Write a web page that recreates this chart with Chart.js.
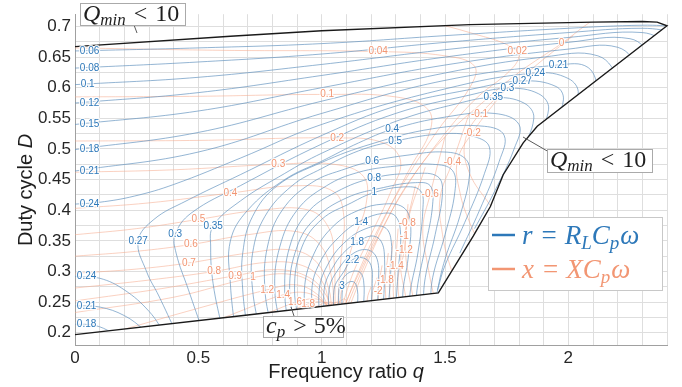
<!DOCTYPE html>
<html><head><meta charset="utf-8">
<script src="https://cdn.jsdelivr.net/npm/chart.js@4.4.0/dist/chart.umd.min.js"></script>
<style>html,body{margin:0;padding:0;background:#fff;}#wrap{width:682px;height:387px;position:relative;}</style>
</head><body><div id="wrap"><canvas id="c" width="682" height="387"></canvas></div>
<script>
// ---------- data ----------
const xTickLabels = [0, 0.5, 1, 1.5, 2];
const yTickLabels = [0.2, 0.25, 0.3, 0.35, 0.4, 0.45, 0.5, 0.55, 0.6, 0.65, 0.7];

const boundaryTop = [[0,0.667],[0.63,0.684],[1.0,0.693],[1.6,0.703],[2.1,0.707],[2.3,0.708],[2.36,0.707],[2.4,0.701]];
const boundaryRight = [[2.4,0.701],[1.874,0.537],[1.817,0.510],[1.736,0.458],[1.684,0.406],[1.615,0.358],[1.473,0.265]];
const boundaryBottom = [[1.473,0.265],[0.7,0.229],[0,0.197]];

// r = R_L Cp w contours
const rLevels = [0.06,0.08,0.1,0.12,0.15,0.18,0.21,0.24,0.18,0.21,0.24,0.27,0.3,0.35,0.4,0.45,0.5,0.6,0.7,0.8,0.9,1,1.2,1.4,1.6,1.8,2,2.2,2.6,3];
const rLines = [
 [[0,0.660],[0.5,0.665],[1.0,0.672],[1.5,0.685],[2.0,0.697],[2.3,0.702],[2.45,0.70]],
 [[0,0.632],[0.5,0.642],[1.0,0.655],[1.5,0.674],[2.0,0.69],[2.3,0.697],[2.45,0.69]],
 [[0,0.605],[0.5,0.617],[1.0,0.638],[1.5,0.662],[2.0,0.682],[2.3,0.69],[2.42,0.67]],
 [[0,0.575],[0.5,0.592],[1.0,0.62],[1.5,0.65],[2.0,0.674],[2.25,0.68],[2.35,0.65]],
 [[0,0.540],[0.5,0.562],[1.0,0.60],[1.5,0.637],[2.0,0.663],[2.2,0.666],[2.3,0.63]],
 [[0,0.499],[0.5,0.527],[1.0,0.578],[1.5,0.624],[1.9,0.65],[2.12,0.652],[2.22,0.61]],
 [[0,0.464],[0.5,0.495],[1.0,0.558],[1.5,0.612],[1.96,0.637],[2.08,0.633],[2.13,0.59]],
 [[0,0.41],[0.1,0.413],[0.24,0.423],[0.4,0.442],[0.67,0.485],[1.0,0.54],[1.5,0.598],[1.866,0.624],[2.0,0.615],[2.04,0.59],[1.98,0.54]],
 [[0,0.214],[0.08,0.212],[0.15,0.2],[0.2,0.185]],
 [[0,0.244],[0.1,0.242],[0.2,0.228],[0.28,0.205],[0.32,0.19]],
 [[0,0.292],[0.1,0.289],[0.2,0.27],[0.3,0.235],[0.37,0.195]],
 [[0.41,0.2],[0.34,0.26],[0.29,0.3],[0.256,0.35],[0.32,0.385],[0.45,0.415],[0.67,0.458],[1.0,0.522],[1.3,0.57],[1.6,0.597],[1.813,0.611],[1.95,0.602],[1.98,0.58],[1.93,0.53],[1.86,0.48]],
 [[0.52,0.2],[0.46,0.27],[0.41,0.33],[0.406,0.36],[0.47,0.395],[0.67,0.44],[1.0,0.508],[1.3,0.558],[1.6,0.588],[1.753,0.599],[1.88,0.59],[1.92,0.565],[1.86,0.51],[1.78,0.45]],
 [[0.6,0.2],[0.56,0.28],[0.55,0.34],[0.56,0.374],[0.67,0.415],[0.85,0.46],[1.0,0.493],[1.3,0.545],[1.55,0.574],[1.696,0.584],[1.82,0.575],[1.86,0.55],[1.8,0.49],[1.72,0.43]],
 [[0.65,0.2],[0.63,0.28],[0.63,0.35],[0.7,0.4],[0.85,0.45],[1.0,0.48],[1.15,0.51],[1.286,0.532],[1.5,0.552],[1.7,0.558],[1.8,0.54],[1.78,0.5],[1.7,0.43],[1.62,0.37]],
 [[0.7,0.2],[0.68,0.27],[0.68,0.33],[0.72,0.39],[0.82,0.44],[1.0,0.478],[1.2,0.508],[1.45,0.533],[1.66,0.537],[1.74,0.522],[1.72,0.48],[1.64,0.4],[1.56,0.33]],
 [[0.75,0.2],[0.72,0.27],[0.72,0.33],[0.77,0.39],[0.88,0.44],[1.0,0.468],[1.15,0.497],[1.298,0.513],[1.5,0.525],[1.62,0.52],[1.68,0.503],[1.66,0.46],[1.58,0.38],[1.5,0.31],[1.47,0.27]],
 [[0.8,0.2],[0.77,0.27],[0.78,0.34],[0.84,0.4],[0.96,0.445],[1.1,0.468],[1.205,0.48],[1.35,0.49],[1.5,0.495],[1.58,0.485],[1.6,0.46],[1.56,0.39],[1.5,0.32],[1.47,0.27],[1.46,0.24]],
 [[0.84,0.2],[0.81,0.27],[0.83,0.34],[0.9,0.4],[1.02,0.44],[1.15,0.462],[1.3,0.472],[1.45,0.475],[1.53,0.465],[1.54,0.43],[1.5,0.36],[1.45,0.29],[1.44,0.24]],
 [[0.87,0.2],[0.85,0.27],[0.87,0.34],[0.94,0.395],[1.06,0.43],[1.213,0.453],[1.38,0.46],[1.47,0.455],[1.49,0.43],[1.46,0.36],[1.42,0.29],[1.41,0.24]],
 [[0.9,0.2],[0.87,0.27],[0.9,0.34],[0.97,0.385],[1.1,0.42],[1.25,0.437],[1.38,0.445],[1.44,0.44],[1.45,0.41],[1.42,0.34],[1.39,0.28],[1.38,0.24]],
 [[0.92,0.2],[0.89,0.27],[0.92,0.34],[1.0,0.385],[1.12,0.412],[1.213,0.429],[1.33,0.438],[1.4,0.432],[1.41,0.4],[1.39,0.33],[1.36,0.27],[1.355,0.24]],
 [[0.95,0.2],[0.93,0.27],[0.97,0.33],[1.05,0.375],[1.15,0.4],[1.25,0.41],[1.33,0.405],[1.36,0.38],[1.35,0.32],[1.33,0.27],[1.33,0.24]],
 [[0.98,0.2],[0.96,0.27],[1.0,0.32],[1.08,0.36],[1.16,0.383],[1.25,0.395],[1.3,0.39],[1.32,0.36],[1.31,0.3],[1.3,0.24]],
 [[1.0,0.2],[0.99,0.27],[1.03,0.315],[1.1,0.35],[1.18,0.37],[1.25,0.373],[1.28,0.355],[1.28,0.3],[1.27,0.24]],
 [[1.02,0.2],[1.01,0.27],[1.05,0.31],[1.1,0.335],[1.144,0.347],[1.2,0.358],[1.24,0.35],[1.255,0.32],[1.25,0.24]],
 [[1.04,0.2],[1.03,0.27],[1.07,0.305],[1.13,0.33],[1.19,0.335],[1.225,0.32],[1.23,0.28],[1.225,0.24]],
 [[1.06,0.2],[1.05,0.27],[1.09,0.3],[1.124,0.319],[1.17,0.322],[1.2,0.31],[1.205,0.28],[1.2,0.24]],
 [[1.08,0.2],[1.07,0.27],[1.1,0.295],[1.15,0.3],[1.17,0.285],[1.17,0.24]],
 [[1.09,0.2],[1.083,0.265],[1.1,0.28],[1.13,0.283],[1.145,0.27],[1.145,0.24]]
];
const rLabelText = ['0.06','0.08','0.1','0.12','0.15','0.18','0.21','0.24','0.24','0.21','0.18','0.27','0.3','0.35','0.4','0.5','0.6','0.8','1','1.4','1.8','2.2','3','0.35','0.3','0.27','0.24','0.21'];
const rLabelX = [0.059,0.059,0.051,0.059,0.059,0.059,0.059,0.059,0.047,0.047,0.047,0.256,0.406,0.56,1.286,1.298,1.205,1.213,1.213,1.16,1.144,1.124,1.083,1.696,1.753,1.813,1.866,1.96];
const rLabelY = [0.660,0.632,0.605,0.575,0.540,0.499,0.463,0.410,0.292,0.244,0.214,0.350,0.360,0.374,0.532,0.513,0.480,0.453,0.429,0.380,0.347,0.319,0.276,0.584,0.599,0.611,0.624,0.637];

// x = X Cp w contours
const xLevels = [0.04,0.1,0.2,0.3,0.4,0.5,0.6,0.7,0.8,0.9,1,1.2,1.4,1.6,1.8,0.02,0,-0.1,-0.2,-0.4,-0.6,-0.8,-1,-1.2,-1.4,-1.6,-1.8,-2,2,2.5,3,-2.5,-3];
const xLines = [
 [[0,0.665],[0.6,0.661],[1.229,0.659],[1.5,0.652],[1.62,0.635],[1.6,0.6],[1.47,0.53],[1.34,0.45],[1.23,0.37],[1.15,0.3],[1.09,0.24]],
 [[0,0.585],[0.5,0.586],[1.022,0.589],[1.3,0.585],[1.43,0.565],[1.44,0.53],[1.36,0.47],[1.27,0.4],[1.19,0.33],[1.12,0.27],[1.08,0.23]],
 [[0,0.513],[0.5,0.514],[1.063,0.518],[1.25,0.51],[1.32,0.48],[1.28,0.43],[1.2,0.36],[1.13,0.3],[1.08,0.24]],
 [[0,0.462],[0.4,0.466],[0.824,0.475],[1.05,0.475],[1.17,0.455],[1.18,0.41],[1.13,0.35],[1.09,0.29],[1.07,0.24]],
 [[0,0.403],[0.3,0.412],[0.63,0.428],[0.9,0.44],[1.05,0.43],[1.09,0.39],[1.08,0.33],[1.07,0.28],[1.065,0.24]],
 [[0,0.36],[0.25,0.37],[0.5,0.385],[0.75,0.4],[0.95,0.4],[1.03,0.37],[1.05,0.32],[1.055,0.24]],
 [[0,0.325],[0.25,0.333],[0.47,0.344],[0.7,0.36],[0.9,0.365],[1.0,0.34],[1.04,0.29],[1.05,0.24]],
 [[0,0.297],[0.25,0.304],[0.462,0.314],[0.7,0.33],[0.88,0.335],[0.98,0.315],[1.03,0.27],[1.04,0.24]],
 [[0,0.273],[0.3,0.286],[0.564,0.30],[0.78,0.315],[0.92,0.31],[1.0,0.285],[1.035,0.24]],
 [[0,0.252],[0.35,0.272],[0.649,0.293],[0.82,0.303],[0.95,0.29],[1.02,0.26],[1.03,0.24]],
 [[0,0.233],[0.4,0.258],[0.722,0.29],[0.88,0.295],[0.98,0.275],[1.03,0.24]],
 [[0.15,0.2],[0.5,0.24],[0.779,0.27],[0.9,0.278],[0.99,0.26],[1.03,0.235]],
 [[0.45,0.2],[0.7,0.24],[0.844,0.262],[0.94,0.265],[1.01,0.25],[1.04,0.235]],
 [[0.65,0.21],[0.8,0.235],[0.892,0.249],[0.98,0.255],[1.04,0.24]],
 [[0.8,0.22],[0.945,0.247],[1.01,0.25],[1.05,0.24]],
 [[1.3,0.72],[1.6,0.69],[1.793,0.66],[1.78,0.635],[1.62,0.58],[1.47,0.51],[1.33,0.43],[1.22,0.35],[1.14,0.28],[1.1,0.24]],
 [[2.2,0.73],[2.1,0.71],[1.972,0.672],[1.8,0.625],[1.65,0.575],[1.5,0.52],[1.36,0.45],[1.26,0.38],[1.17,0.3],[1.11,0.24]],
 [[2.02,0.685],[1.85,0.63],[1.64,0.556],[1.58,0.51],[1.6,0.46],[1.68,0.41],[1.75,0.37]],
 [[1.75,0.6],[1.61,0.526],[1.55,0.48],[1.56,0.43],[1.6,0.38],[1.66,0.33]],
 [[1.6,0.56],[1.53,0.478],[1.48,0.42],[1.49,0.36],[1.52,0.31],[1.56,0.27]],
 [[1.5,0.52],[1.44,0.426],[1.41,0.37],[1.43,0.31],[1.46,0.25]],
 [[1.42,0.47],[1.347,0.379],[1.34,0.33],[1.36,0.28],[1.38,0.24]],
 [[1.38,0.44],[1.335,0.358],[1.32,0.31],[1.34,0.26],[1.35,0.23]],
 [[1.35,0.41],[1.335,0.334],[1.31,0.29],[1.32,0.23]],
 [[1.31,0.37],[1.298,0.308],[1.29,0.27],[1.3,0.23]],
 [[1.29,0.35],[1.275,0.295],[1.28,0.23]],
 [[1.27,0.33],[1.258,0.285],[1.265,0.23]],
 [[1.245,0.31],[1.229,0.268],[1.24,0.23]],
 [[0.9,0.225],[0.99,0.245],[1.04,0.25],[1.07,0.24]],
 [[0.98,0.232],[1.03,0.245],[1.075,0.25],[1.09,0.24]],
 [[1.04,0.238],[1.07,0.25],[1.095,0.255],[1.1,0.24]],
 [[1.225,0.29],[1.205,0.262],[1.21,0.23]],
 [[1.2,0.275],[1.185,0.255],[1.19,0.23]]
];
const xLabelText = ['0.04','0.1','0.2','0.3','0.4','0.5','0.6','0.7','0.8','0.9','1','1.2','1.4','1.6','1.8','0.02','0','-0.1','-0.2','-0.4','-0.6','-0.8','-1','-1.2','-1.4','-1.8','-2'];
const xLabelX = [1.229,1.022,1.063,0.824,0.63,0.50,0.47,0.462,0.564,0.649,0.722,0.779,0.844,0.892,0.945,1.793,1.972,1.64,1.61,1.53,1.44,1.347,1.335,1.335,1.298,1.258,1.229];
const xLabelY = [0.659,0.589,0.518,0.475,0.428,0.385,0.344,0.314,0.300,0.293,0.290,0.270,0.262,0.249,0.247,0.660,0.672,0.556,0.526,0.478,0.426,0.379,0.358,0.334,0.308,0.285,0.268];

// ---------- styling / chart ----------
const BLUE_LINE = 'rgba(95,145,190,0.75)';
const ORANGE_LINE = 'rgba(246,170,140,0.6)';
const BLUE_TXT = 'rgb(45,120,185)';
const ORANGE_TXT = 'rgb(242,150,115)';
const regionPoly = boundaryTop.concat(boundaryRight.slice(1), boundaryBottom.slice(1));
const toPts = a => a.map(p => ({x: p[0], y: p[1]}));

const datasets = [];
datasets.push({label:'boundary', data: toPts(regionPoly),
  borderColor:'#1a1a1a', borderWidth:1.4, pointRadius:0, tension:0, order:0, clip:false});
rLines.forEach((l,i) => datasets.push({label:'r '+rLevels[i], data: toPts(l), borderColor: BLUE_LINE, borderWidth:0.9,
  pointRadius:0, tension:0.4, order:1, clipRegion:true}));
xLines.forEach((l,i) => datasets.push({label:'x '+xLevels[i], data: toPts(l), borderColor: ORANGE_LINE, borderWidth:0.9,
  pointRadius:0, tension:0.4, order:2, clipRegion:true}));

function polyPath(ctx, chart, poly) {
  const xs = chart.scales.x, ys = chart.scales.y;
  ctx.beginPath();
  poly.forEach((p,i) => { const px = xs.getPixelForValue(p[0]), py = ys.getPixelForValue(p[1]); if (i) ctx.lineTo(px,py); else ctx.moveTo(px,py); });
  ctx.closePath();
}
function rich(ctx, segs, x, y, align) {
  let w = 0;
  segs.forEach(s => { ctx.font = s[1]; w += ctx.measureText(s[0]).width + (s[3]||0); });
  let cx = align === 'center' ? x - w/2 : (align === 'right' ? x - w : x);
  segs.forEach(s => { ctx.font = s[1]; ctx.fillText(s[0], cx, y + (s[2]||0)); cx += ctx.measureText(s[0]).width + (s[3]||0); });
  return w;
}
const SERIF = '"Liberation Serif", "DejaVu Serif", serif';
const SANS = '"Liberation Sans", Arial, sans-serif';

const clipPlugin = {
  id: 'clipRegion',
  beforeDatasetDraw(chart, args) {
    const ds = chart.data.datasets[args.index];
    if (!ds.clipRegion) return;
    chart.ctx.save(); polyPath(chart.ctx, chart, regionPoly); chart.ctx.clip();
  },
  afterDatasetDraw(chart, args) {
    if (chart.data.datasets[args.index].clipRegion) chart.ctx.restore();
  }
};

const decoPlugin = {
  id: 'deco',
  afterDatasetsDraw(chart) {
    const ctx = chart.ctx, xs = chart.scales.x, ys = chart.scales.y;
    ctx.save();
    ctx.font = '10px ' + SANS; ctx.textAlign = 'center'; ctx.textBaseline = 'middle';
    ctx.lineJoin = 'round';
    const lab = (t, x, y, col) => {
      const px = xs.getPixelForValue(x), py = ys.getPixelForValue(y);
      ctx.strokeStyle = 'rgba(255,255,255,0.85)'; ctx.lineWidth = 2.5; ctx.strokeText(t, px, py);
      ctx.fillStyle = col; ctx.fillText(t, px, py);
    };
    xLabelText.forEach((t,i) => lab(t, xLabelX[i], xLabelY[i], ORANGE_TXT));
    rLabelText.forEach((t,i) => lab(t, rLabelX[i], rLabelY[i], BLUE_TXT));
    ctx.restore();
  },
  afterDraw(chart) {
    const ctx = chart.ctx;
    ctx.save();
    ctx.fillStyle = '#1f1f1f'; ctx.textBaseline = 'alphabetic';
    rich(ctx, [['Frequency ratio ', '20px '+SANS], ['q', 'italic 20px '+SANS]], 346, 378, 'center');
    ctx.save(); ctx.translate(32, 190); ctx.rotate(-Math.PI/2);
    rich(ctx, [['Duty cycle ', '20px '+SANS], ['D', 'italic 20px '+SANS]], 0, 0, 'center');
    ctx.restore();
    const box = (x,y,w,h) => { ctx.fillStyle='#fff'; ctx.fillRect(x,y,w,h); ctx.strokeStyle='rgb(170,170,170)'; ctx.lineWidth=1; ctx.strokeRect(x+0.5,y+0.5,w,h); };
    const leader = (x1,y1,x2,y2) => { ctx.strokeStyle='rgb(90,90,90)'; ctx.lineWidth=1; ctx.beginPath(); ctx.moveTo(x1,y1); ctx.lineTo(x2,y2); ctx.stroke(); };
    const qmin = (x, y) => rich(ctx, [['Q', 'italic 24px '+SERIF], ['min', 'italic 17px '+SERIF, 4, 8], ['<', '24px '+SERIF, 0, 8], ['10', '24px '+SERIF]], x, y, 'left');
    leader(134,25,137,33);
    box(80,3,105,22); ctx.fillStyle='#1f1f1f'; qmin(83, 21);
    leader(549,152,523,137);
    box(547,149,105,23); ctx.fillStyle='#1f1f1f'; qmin(550, 167);
    leader(294,316,291,307);
    box(263,316,80,21); ctx.fillStyle='#1f1f1f';
    rich(ctx, [['c', 'italic 24px '+SERIF], ['p', 'italic 17px '+SERIF, 4, 8], ['>', '24px '+SERIF, 0, 7], ['5%', '24px '+SERIF]], 266, 333, 'left');
    ctx.fillStyle='#fff'; ctx.fillRect(488,217,174,73);
    ctx.strokeStyle='rgb(200,200,200)'; ctx.lineWidth=1; ctx.strokeRect(488.5,217.5,174,73);
    ctx.lineWidth = 2.5;
    ctx.strokeStyle = BLUE_TXT; ctx.beginPath(); ctx.moveTo(492,235); ctx.lineTo(515,235); ctx.stroke();
    ctx.strokeStyle = ORANGE_TXT; ctx.beginPath(); ctx.moveTo(492,269); ctx.lineTo(515,269); ctx.stroke();
    ctx.fillStyle = BLUE_TXT;
    rich(ctx, [['r', 'italic 27px '+SERIF, 0, 9], ['=', '27px '+SERIF, 0, 8], ['R', 'italic 27px '+SERIF], ['L', 'italic 19px '+SERIF, 5], ['C', 'italic 27px '+SERIF], ['p', 'italic 19px '+SERIF, 5, 1], ['ω', 'italic 27px '+SERIF]], 522, 244, 'left');
    ctx.fillStyle = ORANGE_TXT;
    rich(ctx, [['x', 'italic 27px '+SERIF, 0, 9], ['=', '27px '+SERIF, 0, 8], ['XC', 'italic 27px '+SERIF], ['p', 'italic 19px '+SERIF, 5, 1], ['ω', 'italic 27px '+SERIF]], 522, 278, 'left');
    ctx.restore();
  }
};

const xGrid = []; for (let k = 0; k <= 24; k++) xGrid.push(k / 10);
const yGrid = []; for (let k = 8; k <= 28; k++) yGrid.push(k / 40);

new Chart(document.getElementById('c'), {
  type: 'line',
  data: { datasets },
  options: {
    responsive: false, animation: false, events: [],
    layout: { padding: { top: 5, right: 15, left: 0, bottom: 0 } },
    plugins: { legend: { display: false }, tooltip: { enabled: false } },
    scales: {
      x: { type: 'linear', min: 0, max: 2.4,
        afterFit: s => { s.height = 42; },
        afterBuildTicks: s => { s.ticks = xGrid.map(v => ({value: v})); },
        grid: { color: 'rgb(222,222,222)', lineWidth: 1, drawTicks: false },
        border: { color: 'rgb(160,160,160)' },
        ticks: { padding: 3, maxRotation: 0, autoSkip: false, color: '#262626', font: { size: 17, family: SANS },
          callback: v => { const k = Math.round(v*10); return (k % 5 === 0 && xTickLabels.includes(k/10)) ? String(k/10) : ''; } } },
      y: { type: 'linear', min: 0.18, max: 0.72,
        afterFit: s => { s.width = 75; },
        afterBuildTicks: s => { s.ticks = yGrid.map(v => ({value: v})); },
        grid: { color: 'rgb(222,222,222)', lineWidth: 1, drawTicks: false },
        border: { color: 'rgb(160,160,160)' },
        ticks: { padding: 4, autoSkip: false, color: '#262626', font: { size: 17, family: SANS },
          callback: v => { const k = Math.round(v*1000); return (k % 50 === 0 && yTickLabels.includes(k/1000)) ? String(k/1000) : ''; } } }
    }
  },
  plugins: [clipPlugin, decoPlugin]
});
</script></body></html>
